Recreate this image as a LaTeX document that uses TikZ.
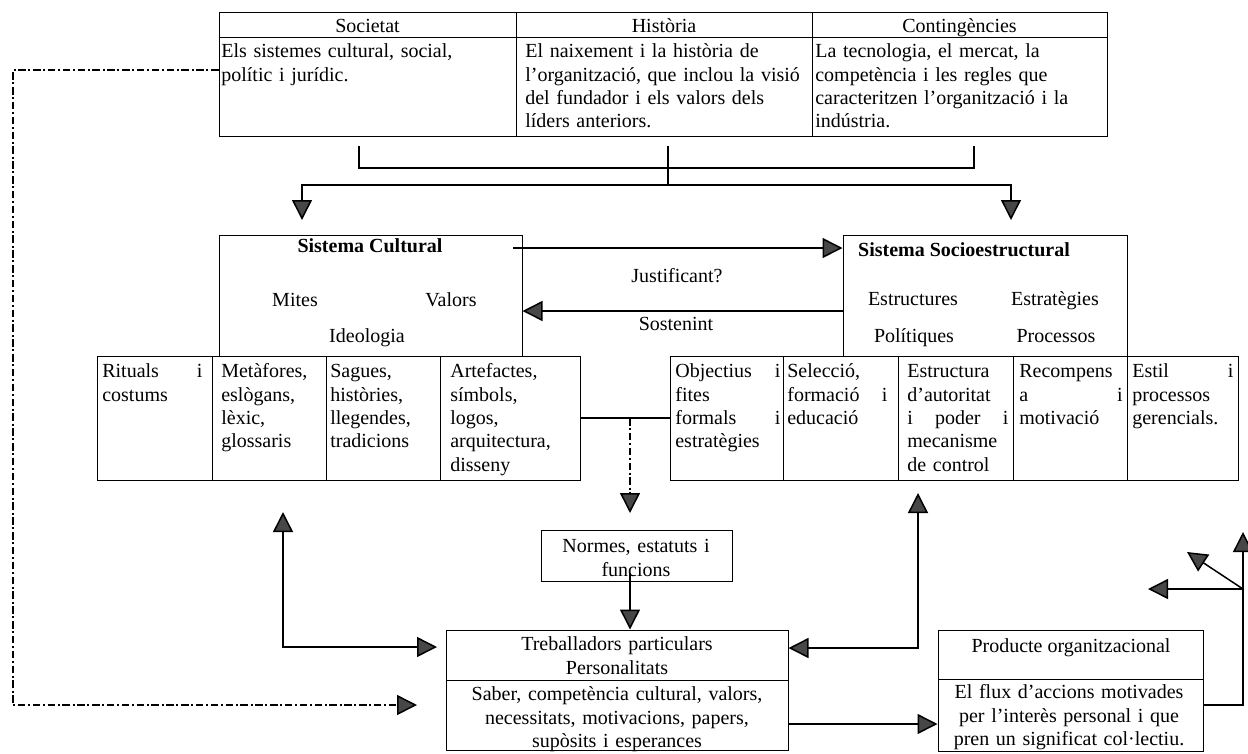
\documentclass[tikz,border=0pt]{standalone}
\usepackage{fontspec}
\setmainfont{Liberation Serif}
\usetikzlibrary{arrows.meta,fit,calc}
\newcommand\myfz{\fontsize{12}{14}\selectfont}
\begin{document}
\begin{tikzpicture}[x=0.6pt,y=-0.6pt,
  box/.style={draw, line width=0.6pt, inner sep=0pt, fit={#1}},
  tl/.style={anchor=north west, inner sep=0pt, align=left, font=\myfz},
  tc/.style={anchor=north, inner sep=0pt, align=center, font=\myfz},
  lb/.style={anchor=base, inner sep=0pt, font=\myfz},
  conn/.style={line width=0.9pt},
  dd/.style={dash pattern=on 4.5pt off 1.6pt on 1.2pt off 1.6pt},
  myarrow/.style={-{Triangle[length=12pt,width=12pt,fill=black!72]}},
  myboth/.style={{Triangle[length=12pt,width=12pt,fill=black!72]}-{Triangle[length=12pt,width=12pt,fill=black!72]}}
]
\useasboundingbox (0,0) rectangle (1248,753);

% ---- top table
\node[box={(219,12) (516,37)}] (soch) {};
\node[box={(516,12) (812,37)}] (hish) {};
\node[box={(812,12) (1107,37)}] (conh) {};
\node[box={(219,37) (516,136)}] (socb) {};
\node[box={(516,37) (812,136)}] (hisb) {};
\node[box={(812,37) (1107,136)}] (conb) {};
\node[lb] (tsoch) at (367.5,32) {Societat};
\node[lb] (thish) at (664,32) {Història};
\node[lb] (tconh) at (959.5,32) {Contingències};
\node[tl, text width=170pt] (tsocb) at (221,41) {\strut Els sistemes cultural, social,\\polític i jurídic.};
\node[tl, text width=170pt] (thisb) at (525,41) {\strut El naixement i la història de\\l’organització, que inclou la visió\\del fundador i els valors dels\\líders anteriors.};
\node[tl, text width=170pt] (tconb) at (815,41) {\strut La tecnologia, el mercat, la\\competència i les regles que\\caracteritzen l’organització i la\\indústria.};

% ---- bracket under the table
\coordinate (b1) at (359,146);
\coordinate (b2) at (359,168);
\coordinate (b3) at (974,168);
\coordinate (b4) at (974,146);
\coordinate (b5) at (668,146);
\coordinate (b6) at (668,185);
\coordinate (b7) at (302,185);
\coordinate (b8) at (1011,185);
\coordinate (b9) at (302,220);
\coordinate (b10) at (1011,220);
\draw[conn] (b1) -- (b2) -- (b3) -- (b4);
\draw[conn] (b5) -- (b6);
\draw[conn,myarrow] (b6) -- (b7) -- (b9);
\draw[conn,myarrow] (b6) -- (b8) -- (b10);

% ---- systems
\node[box={(219,235) (522,356)}] (cult) {};
\node[box={(843,235) (1127,356)}] (socio) {};
\node[lb,font=\myfz\bfseries] (tcult) at (370,252) {Sistema Cultural};
\node[lb] (mites) at (295,306) {Mites};
\node[lb] (valors) at (451,306) {Valors};
\node[lb] (ideo) at (367,342) {Ideologia};
\node[lb,font=\myfz\bfseries] (tsocio) at (964,256) {Sistema Socioestructural};
\node[lb] (estr) at (913,305) {Estructures};
\node[lb] (estg) at (1055,305) {Estratègies};
\node[lb] (pol) at (914,342) {Polítiques};
\node[lb] (proc) at (1056,342) {Processos};

\coordinate (j1) at (513,248);
\draw[conn,myarrow] (j1) -- (j1 -| socio.west);
\node[lb] (just) at (677,282) {Justificant?};
\coordinate (s1) at (843,311);
\draw[conn,myarrow] (s1 -| socio.west) -- (s1 -| cult.east);
\node[lb] (sost) at (676,330) {Sostenint};

% ---- left cells
\node[box={(97,356) (212,480)}] (rit) {};
\node[box={(212,356) (326,480)}] (met) {};
\node[box={(326,356) (440,480)}] (sag) {};
\node[box={(440,356) (580,480)}] (art) {};
\node[tl, text width=60pt] (trit) at (102,361) {\strut Rituals\hfill i\\costums};
\node[tl, text width=62pt] (tmet) at (221,361) {\strut Metàfores,\\eslògans,\\lèxic,\\glossaris};
\node[tl, text width=64pt] (tsag) at (330,361) {\strut Sagues,\\històries,\\llegendes,\\tradicions};
\node[tl, text width=78pt] (tart) at (450,361) {\strut Artefactes,\\símbols,\\logos,\\arquitectura,\\disseny};

% ---- right cells
\node[box={(670,356) (783,480)}] (obj) {};
\node[box={(783,356) (898,480)}] (sel) {};
\node[box={(898,356) (1013,480)}] (aut) {};
\node[box={(1013,356) (1127,480)}] (rec) {};
\node[box={(1127,356) (1238,480)}] (est) {};
\node[tl, text width=63pt] (tobj) at (675,361) {\strut Objectius\hfill i\\fites\\formals\hfill i\\estratègies};
\node[tl, text width=60pt] (tsel) at (787,361) {\strut Selecció,\\formació\hfill i\\educació};
\node[tl, text width=60.6pt] (taut) at (907,361) {\strut Estructura\\d’autoritat\\i\hfill poder\hfill i\\mecanisme\\de control};
\node[tl, text width=62pt] (trec) at (1019,361) {\strut Recompens\\a\hfill i\\motivació};
\node[tl, text width=60.6pt] (test) at (1132,361) {\strut Estil\hfill i\\processos\\gerencials.};

\draw[conn] (art.east) -- (obj.west);
\coordinate (m1) at (630,418);
\coordinate (m2) at (630,513);
\draw[conn,dd,myarrow] (m1) -- (m2);

% ---- normes
\node[box={(541,530) (732,581)}] (normes) {};
\node[tc, text width=120pt] (tnormes) at (636,536) {\strut Normes, estatuts i\\funcions};

% ---- treballadors
\node[box={(446,630) (788,680)}] (trab) {};
\node[box={(446,680) (788,750)}] (trabb) {};
\node[tc, text width=200pt] (ttrab) at (617,634) {\strut Treballadors particulars\\Personalitats};
\node[tc, text width=200pt] (ttrabb) at (617,684) {\strut Saber, competència cultural, valors,\\necessitats, motivacions, papers,\\supòsits i esperances};

\coordinate (n1) at (630,573);
\draw[conn,myarrow] (n1) -- (n1 |- trab.north);

% ---- producte
\node[box={(938,630) (1203,679)}] (prod) {};
\node[box={(938,679) (1203,751)}] (prodb) {};
\node[lb] (tprod) at (1071,652) {Producte organitzacional};
\node[tc, text width=158pt] (tprodb) at (1069,682) {\strut El flux d’accions motivades\\per l’interès personal i que\\pren un significat col·lectiu.};

% ---- connectors bottom
\coordinate (l1) at (283,512);
\coordinate (l2) at (283,647);
\coordinate (l3) at (437,647);
\draw[conn,myboth] (l1) -- (l2) -- (l3);

\coordinate (r1) at (918,493);
\coordinate (r2) at (918,648);
\draw[conn,myboth] (r1) -- (r2) -- (r2 -| trab.east);

\coordinate (d1) at (13,70);
\coordinate (d2) at (13,705);
\coordinate (d3) at (417,705);
\draw[conn,dd,myarrow] (d1 -| socb.west) -- (d1) -- (d2) -- (d3);

\coordinate (t1) at (788,724);
\draw[conn,myarrow] (t1 -| trabb.east) -- (t1 -| prodb.west);

\coordinate (p1) at (1243,705);
\coordinate (p2) at (1243,532);
\coordinate (p3) at (1243,589);
\coordinate (p4) at (1148,589);
\coordinate (p5) at (1187,552);
\draw[conn,myarrow] (p1 -| prodb.east) -- (p1) -- (p2);
\draw[conn,myarrow] (p3) -- (p4);
\draw[conn,myarrow] (p3) -- (p5);
\end{tikzpicture}
\end{document}
